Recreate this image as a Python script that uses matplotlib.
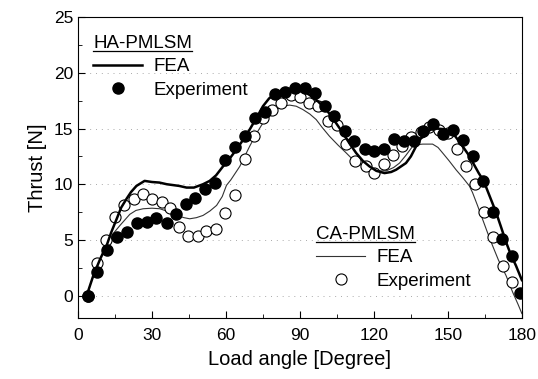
import matplotlib
matplotlib.use('Agg')
import matplotlib.pyplot as plt
from matplotlib.lines import Line2D

plt.rcParams['font.family'] = ['Liberation Sans', 'DejaVu Sans']

# HA-PMLSM experiment (filled circles)
ha_exp_x = [3.9, 7.8, 11.9, 15.7, 19.7, 24.0, 28.0, 31.8, 35.9, 39.7, 43.7, 47.6, 51.7, 55.7,
            59.8, 63.8, 67.9, 71.9, 76.0, 79.8, 83.8, 87.9, 91.9, 96.0, 100.0, 104.0, 108.1,
            112.1, 116.2, 120.0, 124.0, 128.0, 132.1, 136.2, 139.8, 143.8, 147.9, 151.9,
            156.3, 160.0, 164.4, 168.1, 171.9, 176.0, 179.2]
ha_exp_y = [0.0, 2.1, 4.1, 5.3, 5.7, 6.5, 6.6, 7.0, 6.5, 7.35, 8.25, 8.75, 9.6, 10.15,
            12.2, 13.3, 14.3, 15.9, 16.5, 18.1, 18.3, 18.6, 18.6, 18.2, 17.0, 16.1, 14.8,
            13.9, 13.2, 13.0, 13.2, 14.1, 13.9, 13.9, 14.8, 15.4, 14.5, 14.85,
            14.0, 12.5, 10.3, 7.5, 5.1, 3.6, 0.2]

# CA-PMLSM experiment (open circles)
ca_exp_x = [7.6, 11.3, 15.0, 18.8, 22.7, 26.4, 30.2, 33.9, 37.2, 41.0, 44.7, 48.5, 52.1, 55.9,
            59.5, 63.8, 67.6, 71.4, 75.0, 78.7, 82.5, 86.2, 89.9, 93.6, 97.3, 101.3, 105.0,
            108.8, 112.5, 116.6, 120.2, 123.9, 127.6, 131.3, 135.1, 138.9, 142.5, 146.3,
            149.9, 153.7, 157.4, 161.1, 164.5, 168.1, 172.2, 176.0]
ca_exp_y = [2.9, 5.0, 7.1, 8.1, 8.7, 9.1, 8.7, 8.45, 7.9, 6.2, 5.4, 5.4, 5.8, 6.0,
            7.4, 9.0, 12.3, 14.3, 15.9, 16.7, 17.3, 18.0, 17.85, 17.3, 17.0, 15.65, 15.3,
            13.6, 12.1, 11.65, 11.0, 11.85, 12.6, 13.4, 14.2, 14.7, 15.1, 14.9,
            14.6, 13.2, 11.65, 10.0, 7.5, 5.3, 2.65, 1.2]

# HA-PMLSM FEA (thick line)
ha_fea_x = [3.5, 6.2, 9.0, 11.6, 13.5, 15.7, 17.5, 19.7, 21.5, 23.7, 27.0, 30.0, 33.0, 36.0,
            41.0, 44.0, 47.0, 50.7, 53.4, 56.0, 58.8, 61.5, 64.2, 67.0, 69.6, 72.5, 75.0,
            77.5, 80.4, 84.0, 87.5, 91.0, 94.0, 97.0, 100.7, 104.0, 107.4, 110.0, 112.8,
            115.5, 118.2, 121.0, 124.3, 127.0, 129.0, 131.0, 133.0, 135.0, 137.1, 139.0,
            141.2, 143.0, 145.2, 148.0, 150.6, 153.0, 156.0, 158.5, 160.5, 162.5, 164.5,
            167.0, 169.5, 171.5, 173.6, 175.5, 177.6, 180.0]
ha_fea_y = [0.0, 1.8, 3.3, 4.5, 5.7, 6.9, 7.9, 8.7, 9.3, 9.85, 10.3, 10.2, 10.15, 10.0,
            9.85, 9.7, 9.7, 10.0, 10.3, 10.8, 11.6, 12.3, 13.1, 14.0, 14.9, 16.0, 17.0,
            17.7, 18.2, 18.5, 18.6, 18.4, 18.0, 17.5, 16.7, 15.7, 14.6, 13.7, 12.8,
            12.1, 11.6, 11.2, 11.0, 11.1, 11.3, 11.6, 11.9, 12.5, 13.4, 14.1,
            14.6, 14.9, 15.0, 14.95, 14.75, 14.3, 13.4, 12.6, 11.8, 11.0, 10.3,
            8.9, 7.5, 6.2, 4.8, 3.7, 2.7, 1.4]

# CA-PMLSM FEA (thin line)
ca_fea_x = [3.5, 6.2, 9.0, 11.6, 14.0, 17.0, 21.0, 23.5, 26.4, 30.0, 33.2, 36.5, 40.0, 43.0,
            45.3, 48.0, 50.7, 53.5, 56.2, 58.5, 60.2, 62.0, 65.6, 69.6, 72.5, 75.0, 77.5,
            80.4, 83.0, 85.8, 88.5, 91.2, 94.0, 96.6, 99.0, 102.0, 105.5, 108.8, 111.5,
            114.2, 117.0, 120.2, 125.0, 128.0, 130.4, 133.0, 135.7, 137.5, 139.8, 143.8,
            146.0, 147.9, 150.5, 153.3, 156.0, 158.7, 160.0, 162.0, 164.0, 166.0, 168.1,
            170.5, 173.6, 176.3, 178.5, 180.0]
ca_fea_y = [0.0, 1.8, 3.3, 4.5, 5.5, 6.3, 7.3, 7.65, 7.8, 7.85, 7.8, 7.55, 7.2, 7.0,
            6.9, 7.0, 7.2, 7.6, 8.1, 8.9, 9.9, 10.4, 11.6, 13.4, 14.6, 15.5, 16.2,
            16.7, 17.0, 17.1, 17.0, 16.7, 16.3, 15.8, 15.1, 14.3, 13.5, 12.8, 12.2,
            11.8, 11.4, 11.2, 11.2, 11.5, 11.9, 12.6, 13.4, 13.55, 13.6, 13.6,
            13.3, 12.8, 12.1, 11.3, 10.6, 9.85, 9.25, 8.1, 6.9, 5.7, 4.5,
            3.2, 1.8, 0.3, -0.8, -1.6]

x_ticks = [0, 30, 60, 90, 120, 150, 180]
y_ticks = [0, 5, 10, 15, 20, 25]

fig = plt.figure(figsize=(5.38, 3.79), dpi=100)
ax = fig.add_axes([0.145, 0.161, 0.825, 0.794])

ax.yaxis.grid(True, linestyle=(0, (1, 5)), color='#aaaaaa', linewidth=0.7)
ax.set_axisbelow(True)

ca_line, = ax.plot(ca_fea_x, ca_fea_y, color='#333333', linewidth=0.8)
ca_pts, = ax.plot(ca_exp_x, ca_exp_y, 'o', markersize=8, markerfacecolor='white',
                  markeredgecolor='black', markeredgewidth=0.8, linestyle='none')
ha_line, = ax.plot(ha_fea_x, ha_fea_y, color='black', linewidth=1.8)
ha_pts, = ax.plot(ha_exp_x, ha_exp_y, 'o', markersize=8, color='black', linestyle='none')
ax.plot([3.9], [0.0], 'o', markersize=8, color='black')

ax.set_xlim(0, 180)
ax.set_ylim(-2, 25)
ax.set_xticks(x_ticks)
ax.set_yticks(y_ticks)
ax.set_xticks([15, 45, 75, 105, 135, 165], minor=True)
ax.set_yticks([2.5, 7.5, 12.5, 17.5, 22.5], minor=True)
ax.tick_params(which='both', direction='in', labelsize=12.5)
ax.tick_params(which='major', length=5)
ax.tick_params(which='minor', length=3)
ax.tick_params(axis='x', pad=7)
ax.set_xlabel('Load angle [Degree]', fontsize=14.5, labelpad=5)
ax.set_ylabel('Thrust [N]', fontsize=14.5, labelpad=5)

leg1 = ax.legend([ha_line, ha_pts], ['FEA', 'Experiment'], title='HA-PMLSM',
                 loc='upper left', bbox_to_anchor=(0.018, 0.965), frameon=False,
                 fontsize=13.5, title_fontsize=13.5, handlelength=2.6, handletextpad=0.6,
                 labelspacing=0.33, alignment='left', borderaxespad=0)
ax.add_artist(leg1)
leg2 = ax.legend([ca_line, ca_pts], ['FEA', 'Experiment'], title='CA-PMLSM',
                 loc='upper left', bbox_to_anchor=(0.52, 0.33), frameon=False,
                 fontsize=13.5, title_fontsize=13.5, handlelength=2.6, handletextpad=0.6,
                 labelspacing=0.33, alignment='left', borderaxespad=0)

# underline the legend titles
fig.canvas.draw()
renderer = fig.canvas.get_renderer()
for leg in (leg1, leg2):
    bb = leg.get_title().get_window_extent(renderer).transformed(fig.transFigure.inverted())
    fig.add_artist(Line2D([bb.x0, bb.x1], [bb.y0 + 0.004, bb.y0 + 0.004],
                          transform=fig.transFigure, color='black', linewidth=0.9))

fig.savefig('out.png', dpi=100)
